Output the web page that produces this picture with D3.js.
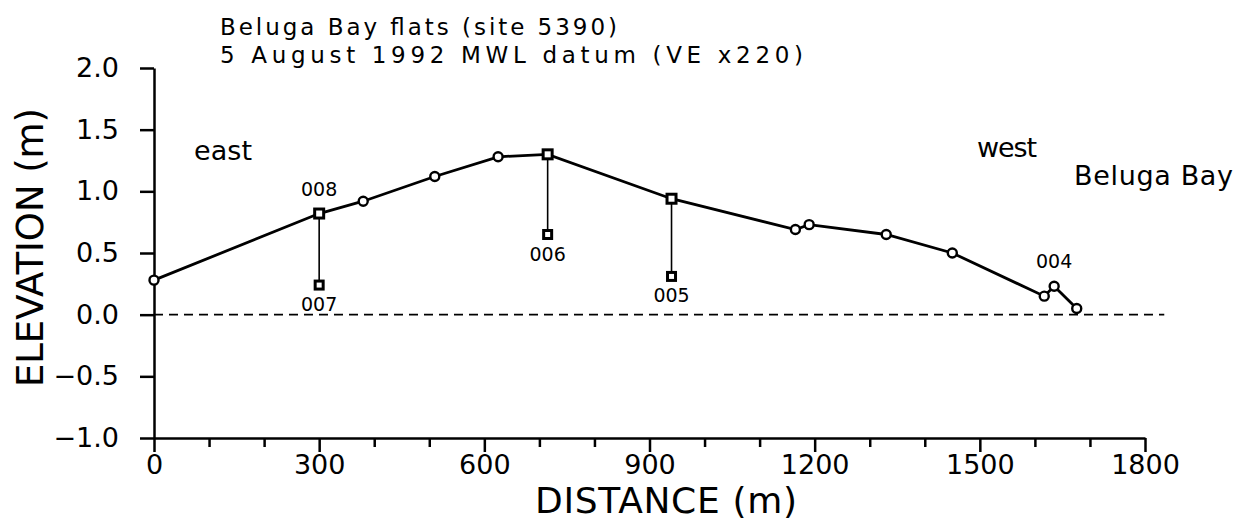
<!DOCTYPE html>
<html>
<head>
<meta charset="utf-8">
<script src="https://cdn.jsdelivr.net/npm/d3@7"></script>
<style>
  body { margin: 0; background: #fff; }
  svg text { font-family: "DejaVu Sans", "Liberation Sans", sans-serif; fill: #000; }
  .axis path, .axis line { stroke: #000; stroke-width: 2.5; }
</style>
</head>
<body>
<div id="container"></div>
<script>
// profile survey points (distance m, elevation m MWL)
const profileDist   = [0, 300, 380, 510, 625, 715, 940, 1165, 1190, 1330, 1450, 1617, 1635, 1676];
const profileElev   = [0.28, 0.82, 0.92, 1.12, 1.28, 1.30, 0.94, 0.69, 0.73, 0.65, 0.50, 0.15, 0.23, 0.05];
const profileMarker = ["circle", "square", "circle", "circle", "circle", "square", "square",
                       "circle", "circle", "circle", "circle", "circle", "circle", "circle"];

// stakes: top on profile, bottom square below
const stakeDist   = [300, 715, 940];
const stakeTop    = [0.82, 1.30, 0.94];
const stakeBottom = [0.24, 0.65, 0.31];

// station labels
const labelText = ["008", "007", "006", "005", "004"];
const labelDist = [300, 300, 715, 940, 1635];
const labelElev = [0.82, 0.24, 0.65, 0.31, 0.23];
const labelSide = ["above", "below", "below", "below", "above"];

const xTicks = [0, 300, 600, 900, 1200, 1500, 1800];
const xMinor = d3.range(0, 1801, 100);
const yTicks = [-1.0, -0.5, 0.0, 0.5, 1.0, 1.5, 2.0];

const width = 1253, height = 524;
const svg = d3.select('#container').append('svg')
  .attr('width', width).attr('height', height);

const x = d3.scaleLinear().domain([0, 1800]).range([154, 1145]);
const y = d3.scaleLinear().domain([-1, 2]).range([438, 68]);

// axes
const fmtY = d => d3.format('.1f')(d).replace('-', '\u2212');

const yAxis = svg.append('g').attr('class', 'axis')
  .attr('transform', `translate(${x(0)},0)`)
  .call(d3.axisLeft(y).tickValues(yTicks).tickFormat(fmtY).tickSize(14).tickSizeOuter(0).tickPadding(21));
yAxis.selectAll('text').style('font-size', '27px');

svg.append('g').attr('class', 'axis')
  .attr('transform', `translate(0,${y(-1)})`)
  .call(d3.axisBottom(x).tickValues(xMinor.filter(v => v % 300 !== 0)).tickSize(9).tickFormat('').tickSizeOuter(0))
  .select('.domain').remove();

const xAxis = svg.append('g').attr('class', 'axis')
  .attr('transform', `translate(0,${y(-1)})`)
  .call(d3.axisBottom(x).tickValues(xTicks).tickFormat(d3.format('d')).tickSize(14).tickSizeOuter(0).tickPadding(3));
xAxis.selectAll('text').style('font-size', '27px');

// zero datum
svg.append('line')
  .attr('x1', x(0)).attr('x2', x(1835))
  .attr('y1', y(0)).attr('y2', y(0))
  .attr('stroke', '#000').attr('stroke-width', 1.6)
  .attr('stroke-dasharray', '9,6');

// stake lines
svg.selectAll('.stake').data(stakeDist).enter().append('line')
  .attr('x1', d => x(d)).attr('x2', d => x(d))
  .attr('y1', (d, i) => y(stakeTop[i])).attr('y2', (d, i) => y(stakeBottom[i]))
  .attr('stroke', '#000').attr('stroke-width', 1.6);

// profile line
const pts = profileDist.map((d, i) => [d, profileElev[i]]);
svg.append('path')
  .attr('d', d3.line().x(d => x(d[0])).y(d => y(d[1]))(pts))
  .attr('fill', 'none').attr('stroke', '#000').attr('stroke-width', 2.8);

// markers
pts.forEach((p, i) => {
  if (profileMarker[i] === 'circle') {
    svg.append('circle').attr('cx', x(p[0])).attr('cy', y(p[1])).attr('r', 4.5)
      .attr('fill', '#fff').attr('stroke', '#000').attr('stroke-width', 2.4);
  } else {
    svg.append('rect').attr('x', x(p[0]) - 4.5).attr('y', y(p[1]) - 4.5)
      .attr('width', 9).attr('height', 9)
      .attr('fill', '#fff').attr('stroke', '#000').attr('stroke-width', 3);
  }
});
stakeDist.forEach((d, i) => {
  svg.append('rect').attr('x', x(d) - 4).attr('y', y(stakeBottom[i]) - 4)
    .attr('width', 8).attr('height', 8)
    .attr('fill', '#fff').attr('stroke', '#000').attr('stroke-width', 3);
});

// station labels
labelText.forEach((t, i) => {
  svg.append('text')
    .attr('x', x(labelDist[i]))
    .attr('y', y(labelElev[i]) + (labelSide[i] === 'above' ? -18 : 26))
    .attr('text-anchor', 'middle')
    .style('font-size', '19px')
    .text(t);
});

// titles and notes
const txt = (s, px, py, size, len) => {
  const el = svg.append('text').attr('x', px).attr('y', py).style('font-size', size + 'px').text(s);
  if (len) el.attr('textLength', len).attr('lengthAdjust', 'spacing');
  return el;
};
txt('Beluga Bay flats (site 5390)', 220, 35, 23, 397);
txt('5 August 1992 MWL datum (VE x220)', 220, 63, 23, 583);
txt('east', 194, 160, 27, 58);
txt('west', 977, 157, 27, 60);
txt('Beluga Bay', 1074, 185, 27, 159);
txt('DISTANCE (m)', 535, 513, 36, 262);
svg.append('text')
  .attr('transform', 'translate(43,387) rotate(-90)')
  .style('font-size', '37px')
  .attr('textLength', 279).attr('lengthAdjust', 'spacing')
  .text('ELEVATION (m)');
</script>
</body>
</html>
